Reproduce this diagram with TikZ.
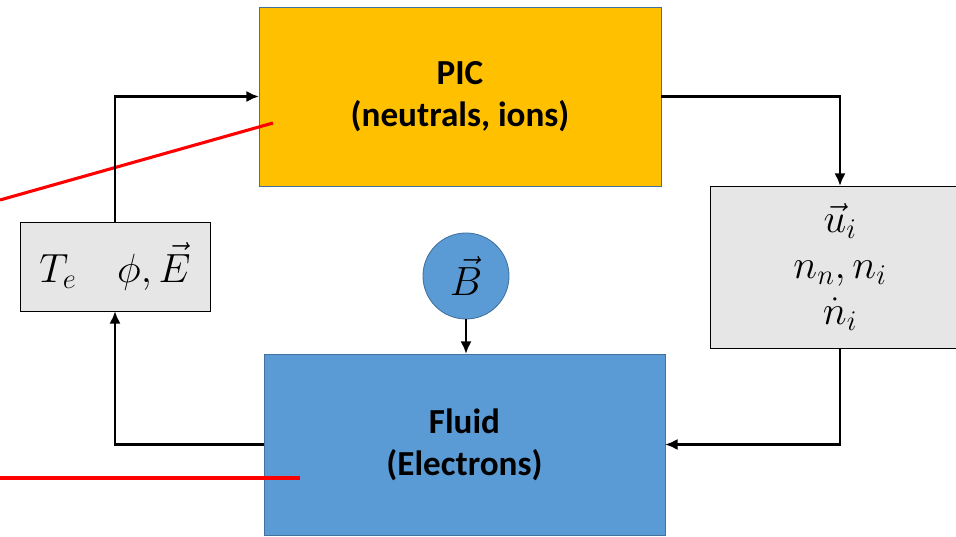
\documentclass[tikz,border=0pt]{standalone}
\usepackage{fix-cm}
\usepackage{fontspec}
\setmainfont{Carlito}
\usetikzlibrary{arrows.meta}
\definecolor{picorange}{HTML}{FFC000}
\definecolor{fluidblue}{HTML}{5B9BD5}
\definecolor{edgeblue}{HTML}{41719C}
\definecolor{boxgrey}{HTML}{E7E6E6}
\begin{document}
\begin{tikzpicture}[
    solver/.style={draw=edgeblue, line width=0.6pt, inner sep=0pt, outer sep=0pt,
                   align=center, font=\fontsize{25}{30}\selectfont\bfseries},
    quantity/.style={draw=black, fill=boxgrey, line width=0.6pt, inner sep=0pt, outer sep=0pt,
                     align=center, font=\fontsize{29}{33}\selectfont},
    field/.style={circle, draw=edgeblue, fill=fluidblue, line width=0.6pt, inner sep=0pt,
                  outer sep=0pt, minimum size=2.15cm, font=\fontsize{29}{33}\selectfont},
    link/.style={draw=black, line width=1.9pt, -{Latex[length=9pt,width=8pt]}},
    marker/.style={draw=red, line width=2.2pt},
  ]
  \useasboundingbox (0,0) rectangle (23.9,13.425);
  % solvers
  \node[solver, fill=picorange, minimum width=10.05cm, minimum height=4.475cm] (PIC) at (11.5,11.0125)
    {PIC\\(neutrals, ions)};
  \node[solver, fill=fluidblue, minimum width=10.025cm, minimum height=4.525cm] (Fluid) at (11.6125,2.3125)
    {Fluid\\(Electrons)};
  % exchanged quantities
  \node[quantity, minimum width=4.75cm, minimum height=2.225cm] (Pot) at (2.875,6.7625)
    {$T_e\quad \phi,\vec{E}$};
  \node[quantity, minimum width=6.5cm, minimum height=4.05cm] (Ion) at (21.0,6.75)
    {$\vec{u}_i$\\$n_n,n_i$\\$\dot{n}_i$};
  \node[field] (B) at (11.65,6.525) {$\vec{B}$};
  % red markers
  \coordinate (R1a) at (0,8.425);
  \coordinate (R1b) at (6.825,10.35);
  \coordinate (R2a) at (0,1.475);
  \coordinate (R2b) at (7.5,1.475);
  \draw[marker] (R1a) -- (R1b);
  \draw[marker] (R2a) -- (R2b);
  % coupling loop
  \draw[link] (PIC.east) -| (Ion.north);
  \draw[link] (Ion.south) |- (Fluid.east);
  \draw[link] (Fluid.west) -| (Pot.south);
  \draw[link] (Pot.north) |- (PIC.west);
  \draw[link] (B.south) -- (B.south |- Fluid.north);
\end{tikzpicture}
\end{document}
